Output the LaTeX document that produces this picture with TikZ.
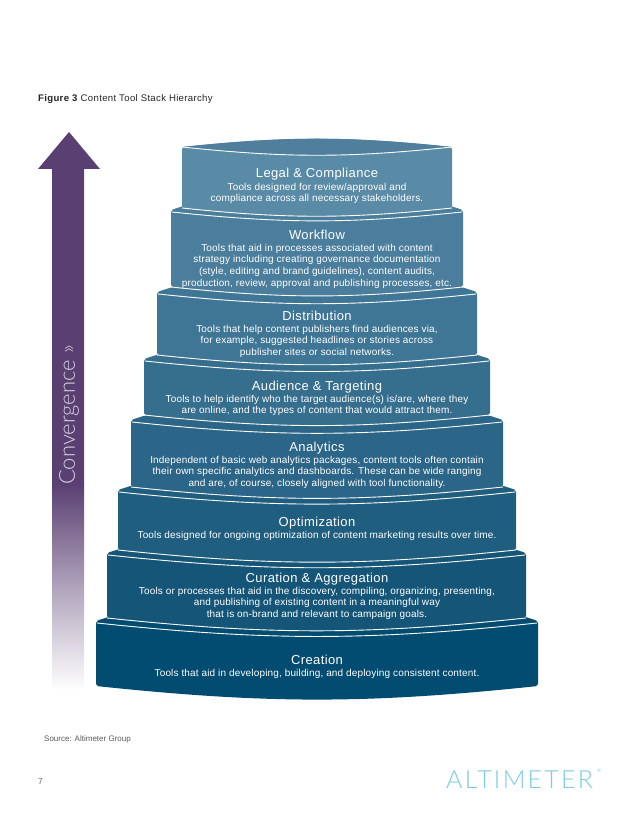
\documentclass[tikz,border=0pt]{standalone}
\usepackage{fontspec}
\setmainfont{Liberation Sans}
\newfontfamily\logofont[LetterSpace=9]{Lato Light}
\newfontfamily\convergefont{Lato Light}
\newfontfamily\titlefont[LetterSpace=3]{Liberation Sans}
\newfontfamily\bodyfont[LetterSpace=1.6]{Liberation Sans}
\newfontfamily\figurefont[LetterSpace=3.3]{Liberation Sans}
\usetikzlibrary{positioning}
\definecolor{legalblue}{HTML}{5A8BA6}
\definecolor{legaltop}{HTML}{4F7F9C}
\definecolor{workflowblue}{HTML}{4A7E9C}
\definecolor{distributionblue}{HTML}{3F7695}
\definecolor{audienceblue}{HTML}{366E8E}
\definecolor{analyticsblue}{HTML}{2B6587}
\definecolor{optimizationblue}{HTML}{205E80}
\definecolor{curationblue}{HTML}{155678}
\definecolor{creationblue}{HTML}{014C70}
\definecolor{convergepurple}{HTML}{5A3F72}
\definecolor{convergetext}{HTML}{DAD2E2}
\definecolor{logoblue}{HTML}{7CCBE2}

\begin{document}
\begin{tikzpicture}[
    x=1pt, y=-1pt,
    tier/.style={fill=#1, rounded corners=2pt},
    rim/.style={draw=white, line width=0.9pt},
    tiertitle/.style={inner sep=0pt, text=white, font=\titlefont\fontsize{13}{14}\selectfont, text height=9pt, text depth=3pt},
    tierbody/.style={inner sep=0pt, text=white, align=center, font=\bodyfont\fontsize{10}{11.7}\selectfont},
    caption/.style={inner sep=0pt, anchor=base west}
  ]
    \useasboundingbox (0,0) rectangle (638,826);

    % arrow on the left
    \fill[convergepurple] (69,132) -- (100,169) -- (84,169) -- (84,484) -- (52,484) -- (52,169) -- (38,169) -- cycle;
    \shade[top color=convergepurple, bottom color=white, middle color=convergepurple!48] (52,483.5) rectangle (84,690);
    \node[rotate=90, inner sep=0pt, text=convergetext, font=\convergefont\fontsize{22}{24}\selectfont] (converge) at (69,415) {Convergence »};

    % tiers, from the bottom up
    \fill[tier=creationblue] (96,621) to[bend left=18] (538,621) -- (538,686) to[bend left=6] (96,686) -- cycle;
    \draw[rim] (97,623) to[bend right=6] (537,623);
    \fill[tier=curationblue] (107,553) to[bend left=18] (526,553) -- (526,618) to[bend left=6] (107,618) -- cycle;
    \draw[rim] (107,618) to[bend right=6] (526,618);
    \draw[rim] (108,555) to[bend right=6] (525,555);
    \fill[tier=optimizationblue] (118,490) to[bend left=18] (516,490) -- (516,550) to[bend left=6] (118,550) -- cycle;
    \draw[rim] (118,550) to[bend right=6] (516,550);
    \draw[rim] (119,492) to[bend right=6] (515,492);
    \fill[tier=analyticsblue] (131,420) to[bend left=18] (503,420) -- (503,487) to[bend left=6] (131,487) -- cycle;
    \draw[rim] (131,487) to[bend right=6] (503,487);
    \draw[rim] (132,422) to[bend right=6] (502,422);
    \fill[tier=audienceblue] (144,359) to[bend left=18] (490,359) -- (490,415) to[bend left=6] (144,415) -- cycle;
    \draw[rim] (144,415) to[bend right=6] (490,415);
    \draw[rim] (145,361) to[bend right=6] (489,361);
    \fill[tier=distributionblue] (157,292) to[bend left=18] (477,292) -- (477,355) to[bend left=6] (157,355) -- cycle;
    \draw[rim] (157,355) to[bend right=6] (477,355);
    \draw[rim] (158,294) to[bend right=6] (476,294);
    \fill[tier=workflowblue] (171,210) to[bend left=18] (463,210) -- (463,287) to[bend left=6] (171,287) -- cycle;
    \draw[rim] (171,287) to[bend right=6] (463,287);
    \draw[rim] (172,212) to[bend right=6] (462,212);
    \fill[tier=legalblue] (182,147) to[bend left=6] (452,147) -- (452,208) to[bend left=6] (182,208) -- cycle;
    \draw[rim] (182,208) to[bend right=6] (452,208);
    \fill[legaltop] (182,147) to[bend left=6] (452,147) to[bend left=6] (182,147) -- cycle;
    \draw[rim] (182,147) to[bend right=6] (452,147);

    % tier texts
    \node[tiertitle] (legal) at (317,175) {Legal \& Compliance};
    \node[tierbody, below=1.5pt of legal] (legaltext) {Tools designed for review/approval and\\compliance across all necessary stakeholders.};
    \node[tiertitle] (workflow) at (317,236) {Workflow};
    \node[tierbody, below=1.5pt of workflow] (workflowtext) {Tools that aid in processes associated with content\\strategy including creating governance documentation\\(style, editing and brand guidelines), content audits,\\production, review, approval and publishing processes, etc.};
    \node[tiertitle] (distribution) at (317,317) {Distribution};
    \node[tierbody, below=1.5pt of distribution] (distributiontext) {Tools that help content publishers find audiences via,\\for example, suggested headlines or stories across\\publisher sites or social networks.};
    \node[tiertitle] (audience) at (317,387) {Audience \& Targeting};
    \node[tierbody, below=1.5pt of audience] (audiencetext) {Tools to help identify who the target audience(s) is/are, where they\\are online, and the types of content that would attract them.};
    \node[tiertitle] (analytics) at (317,448) {Analytics};
    \node[tierbody, below=1.5pt of analytics] (analyticstext) {Independent of basic web analytics packages, content tools often contain\\their own specific analytics and dashboards. These can be wide ranging\\and are, of course, closely aligned with tool functionality.};
    \node[tiertitle] (optimization) at (317,523) {Optimization};
    \node[tierbody, below=1.5pt of optimization] (optimizationtext) {Tools designed for ongoing optimization of content marketing results over time.};
    \node[tiertitle] (curation) at (317,579) {Curation \& Aggregation};
    \node[tierbody, below=1.5pt of curation] (curationtext) {Tools or processes that aid in the discovery, compiling, organizing, presenting,\\and publishing of existing content in a meaningful way\\that is on-brand and relevant to campaign goals.};
    \node[tiertitle] (creation) at (317,661) {Creation};
    \node[tierbody, below=1.5pt of creation] (creationtext) {Tools that aid in developing, building, and deploying consistent content.};

    % page furniture
    \node[caption, font=\figurefont\fontsize{9.6}{11}\selectfont, text=black!85] (figure) at (38,102) {\textbf{Figure 3} Content Tool Stack Hierarchy};
    \node[caption, font=\fontsize{8}{9}\selectfont, text=black!65] (source) at (44,741) {Source: Altimeter Group};
    \node[caption, font=\fontsize{8.5}{10}\selectfont, text=black!60] (pagenumber) at (38,784) {7};
    \node[caption, font=\logofont\fontsize{25}{27}\selectfont, text=logoblue] (logo) at (446,788) {ALTIMETER};
    \node[inner sep=0pt, anchor=north west, font=\fontsize{5}{6}\selectfont, text=logoblue] (registered) at (597,769) {®};
\end{tikzpicture}
\end{document}
